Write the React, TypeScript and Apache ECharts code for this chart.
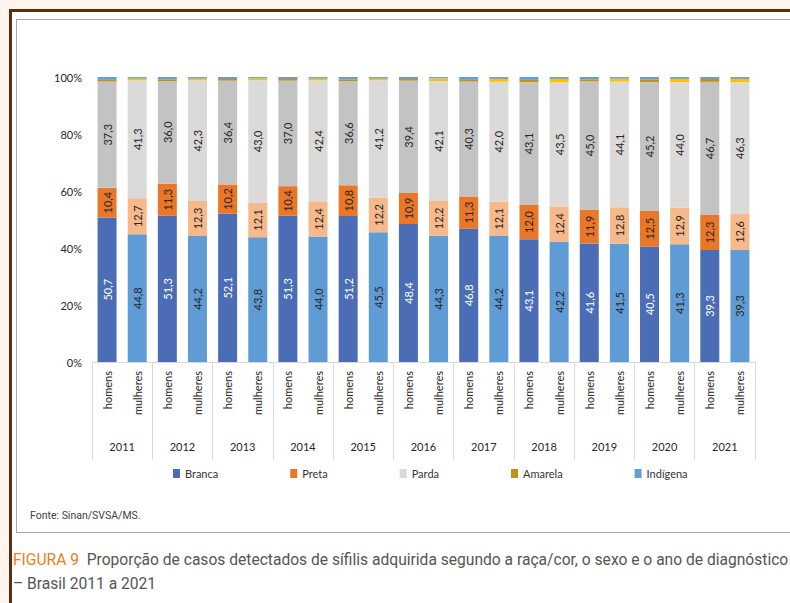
import React, { useEffect, useRef } from "react";
import * as echarts from "echarts";

const years = ["2011", "2012", "2013", "2014", "2015", "2016", "2017", "2018", "2019", "2020", "2021"];
const sexes = ["homens", "mulheres"];
const seriesNames = ["Branca", "Preta", "Parda", "Amarela", "Indígena"];

const branca = [50.7, 44.8, 51.3, 44.2, 52.1, 43.8, 51.3, 44.0, 51.2, 45.5, 48.4, 44.3, 46.8, 44.2, 43.1, 42.2, 41.6, 41.5, 40.5, 41.3, 39.3, 39.3];
const preta = [10.4, 12.7, 11.3, 12.3, 10.2, 12.1, 10.4, 12.4, 10.8, 12.2, 10.9, 12.2, 11.3, 12.1, 12.0, 12.4, 11.9, 12.8, 12.5, 12.9, 12.3, 12.6];
const parda = [37.3, 41.3, 36.0, 42.3, 36.4, 43.0, 37.0, 42.4, 36.6, 41.2, 39.4, 42.1, 40.3, 42.0, 43.1, 43.5, 45.0, 44.1, 45.2, 44.0, 46.7, 46.3];
const amarela = [0.6, 0.6, 0.6, 0.6, 0.6, 0.6, 0.6, 0.6, 0.6, 0.5, 0.6, 0.9, 0.6, 1.0, 0.8, 1.2, 0.7, 1.0, 1.0, 1.1, 1.0, 1.1];
const indigena = [1.0, 0.6, 0.8, 0.6, 0.7, 0.5, 0.7, 0.6, 0.8, 0.6, 0.7, 0.5, 1.0, 0.7, 1.0, 0.7, 0.8, 0.6, 0.8, 0.7, 0.7, 0.7];

const yTicks = [0, 20, 40, 60, 80, 100];

// colours: [homens, mulheres, legend]
const palette = [
  ["#4A6DB5", "#5F9CD5", "#4A6DB5"],
  ["#EA7628", "#F5B98B", "#EA7628"],
  ["#C4C3C4", "#DCD9D9", "#DCD9D9"],
  ["#C39114", "#FFC000", "#C39114"],
  ["#62A0DA", "#6FA8DC", "#62A0DA"],
];
const labelColors = [
  ["#FFFFFF", "#262626"],
  ["#262626", "#262626"],
  ["#262626", "#262626"],
];

const FONT = "Lato, 'Open Sans', sans-serif";
const CAP_FONT = "Roboto, 'Noto Sans', sans-serif";

export default function App() {
  const ref = useRef<HTMLDivElement>(null);

  useEffect(() => {
    if (!ref.current) return;
    const chart = echarts.init(ref.current, undefined, { renderer: "svg" });

    const cats: string[] = [];
    years.forEach((y) => sexes.forEach((s) => cats.push(s + "|" + y)));

    const allData = [branca, preta, parda, amarela, indigena];
    const fmt = (v: number) => v.toFixed(1).replace(".", ",");

    const series = allData.map((arr, si) => ({
      name: seriesNames[si],
      type: "bar",
      stack: "total",
      xAxisIndex: 0,
      barWidth: 19,
      itemStyle: { color: palette[si][2] },
      data: arr.map((v, i) => {
        const sx = i % 2;
        const item: any = {
          value: v,
          itemStyle: { color: palette[si][sx] },
        };
        if (si < 3) {
          item.label = { color: labelColors[si][sx] };
        }
        return item;
      }),
      label:
        si < 3
          ? {
              show: true,
              position: "inside",
              rotate: 90,
              fontSize: 11,
              fontFamily: FONT,
              formatter: (p: any) => fmt(p.value),
            }
          : { show: false },
    }));

    chart.setOption({
      animation: false,
      backgroundColor: "transparent",
      grid: { left: 92, right: 35, top: 77, bottom: 241, containLabel: false },
      legend: {
        data: seriesNames,
        left: 168,
        top: 463,
        icon: "rect",
        itemWidth: 7,
        itemHeight: 9,
        itemGap: 72,
        textStyle: { fontSize: 11, color: "#333", fontFamily: FONT },
      },
      xAxis: [
        {
          type: "category",
          data: cats,
          position: "bottom",
          axisLine: { show: true, lineStyle: { color: "#D9D9D9", width: 1 } },
          axisTick: { show: false },
          axisLabel: {
            interval: 0,
            rotate: 90,
            margin: 9,
            fontSize: 11,
            color: "#262626",
            fontFamily: FONT,
            formatter: (v: string) => v.split("|")[0],
          },
        },
        {
          type: "category",
          data: years,
          position: "bottom",
          axisLine: { show: false },
          axisTick: { show: true, length: 98, interval: 0, lineStyle: { color: "#D9D9D9", width: 1 } },
          axisLabel: {
            interval: 0,
            margin: 79,
            fontSize: 11,
            color: "#262626",
            fontFamily: FONT,
          },
        },
      ],
      yAxis: {
        type: "value",
        min: yTicks[0],
        max: yTicks[yTicks.length - 1],
        interval: 20,
        axisLine: { show: false },
        axisTick: { show: false },
        splitLine: { show: false },
        axisLabel: {
          formatter: "{value}%",
          fontSize: 11,
          color: "#262626",
          fontFamily: FONT,
          margin: 10,
        },
      },
      graphic: [
        {
          type: "text",
          left: 30,
          top: 510,
          style: { text: "Fonte: Sinan/SVSA/MS.", fontSize: 10.5, fill: "#404040", fontFamily: CAP_FONT },
        },
        {
          type: "text",
          left: 13,
          top: 552,
          style: {
            text: "{a|FIGURA 9}  Proporção de casos detectados de sífilis adquirida segundo a raça/cor, o sexo e o ano de diagnóstico",
            fontSize: 15.6,
            fill: "#555555",
            fontFamily: CAP_FONT,
            rich: {
              a: { fontSize: 15.6, fill: "#EE7D22", fontFamily: CAP_FONT },
            },
          },
        },
        {
          type: "text",
          left: 13,
          top: 576,
          style: { text: "– Brasil 2011 a 2021", fontSize: 15.6, fill: "#555555", fontFamily: CAP_FONT },
        },
      ],
      series,
    });

    return () => chart.dispose();
  }, []);

  return (
    <div style={{ position: "fixed", left: 0, top: 0, width: 790, height: 603, background: "#FFF4EE", overflow: "hidden" }}>
      <div style={{ position: "absolute", left: 9, top: 9, width: 800, height: 620, background: "#FFFFFF", borderLeft: "3.5px solid #5C2E0E", borderTop: "3.5px solid #5C2E0E" }} />
      <div style={{ position: "absolute", left: 16, top: 18.5, width: 800, height: 514, border: "1.5px solid #A8A8A8", boxSizing: "border-box" }} />
      <div ref={ref} style={{ position: "absolute", left: 0, top: 0, width: 790, height: 603 }} />
    </div>
  );
}
